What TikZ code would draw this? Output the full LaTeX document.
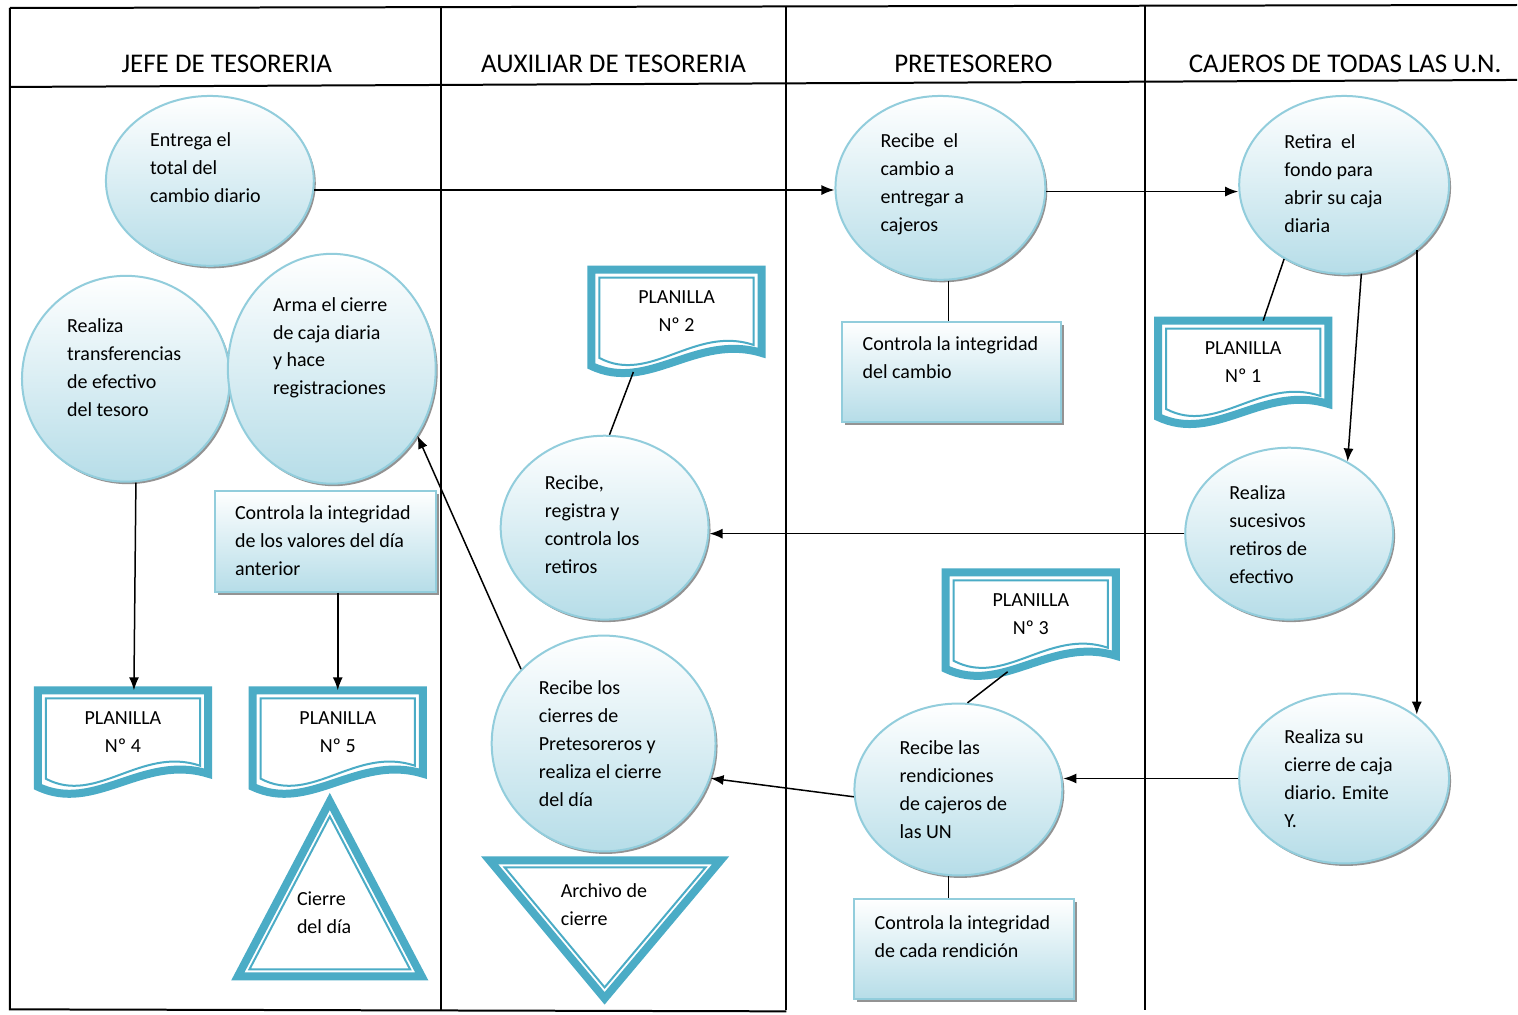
\documentclass[tikz,border=0pt]{standalone}
\usepackage{fontspec}
\setmainfont{Carlito}
\usetikzlibrary{shapes.geometric,calc,shadows,arrows.meta}
\definecolor{aqua}{HTML}{4BACC6}
\definecolor{aqualine}{HTML}{92CDDC}
\definecolor{aquafill}{HTML}{B6DDE8}
\tikzset{
	bubble/.style={ellipse, draw=aqualine, line width=2pt, top color=white, bottom color=aquafill,
		drop shadow={shadow xshift=2pt, shadow yshift=-2.5pt, fill=black!70, opacity=.6}},
	procbox/.style={rectangle, draw=aqualine, line width=2pt, top color=white, bottom color=aquafill,
		drop shadow={shadow xshift=3pt, shadow yshift=-3pt, fill=black!70, opacity=.6}},
	txt/.style={anchor=west, align=left, inner sep=0pt, font=\fontsize{20}{28}\selectfont},
	head/.style={inner sep=0pt, font=\fontsize{27}{30}\selectfont},
	planilla/.style={minimum width=170pt, minimum height=83pt, inner sep=0pt, align=center, font=\fontsize{20}{28}\selectfont},
	docouter/.style={draw=aqua, line width=8pt},
	docinner/.style={draw=aqua, line width=2pt},
	flow/.style={-{Latex[length=13pt,width=10pt]}, line width=1.5pt},
	link/.style={line width=1.5pt},
	lane/.style={line width=2pt}
}
\begin{document}
\begin{tikzpicture}[x=1pt,y=-1pt]
	\fill[white] (0,0) rectangle (1518,1015);
	\draw[lane] (10,8) -- (1518,5);
	\draw[lane] (10,87) -- (1518,80);
	\draw[lane] (10,8) -- (10,1010) -- (787,1012);
	\foreach \x in {441,787,1146}
	\draw[lane] (\x,6) -- (\x,1011);
	\foreach \n/\x/\t in {jefe/227/JEFE DE TESORERIA, aux/614/AUXILIAR DE TESORERIA, pre/974/PRETESORERO, caj/1346/CAJEROS DE TODAS LAS U.N.}
	\node[head] (\n) at (\x,64) {\t};
	\foreach \n/\x/\y/\w/\h in {e1/210/181/208/170, e2/941/188/210/184, e3/1345/185/210/178, e4/126/379/208/206, e5/332/369/208/230,
		e6/605/528/208/184, e7/1290/534/208/172, e8/604/744/224/216, e9/959/790/208/172, e10/1345/779/210/170}
	\node[bubble, minimum width=\w pt, minimum height=\h pt] (\n) at (\x,\y) {};
	\node[txt] (t1) at (150,168) {Entrega el\\total del\\cambio diario};
	\node[txt] (t2) at (881,184) {Recibe~ el\\cambio a\\entregar a\\cajeros};
	\node[txt] (t3) at (1285,184) {Retira~ el\\fondo para\\abrir su caja\\diaria};
	\node[txt] (t4) at (67,368) {Realiza\\transferencias\\de efectivo\\del tesoro};
	\node[txt] (t5) at (273,348) {Arma el cierre\\de caja diaria\\y hace\\registraciones};
	\node[txt] (t6) at (545,525) {Recibe,\\registra y\\controla los\\retiros};
	\node[txt] (t7) at (1230,535) {Realiza\\sucesivos\\retiros de\\efectivo};
	\node[txt] (t8) at (539,744) {Recibe los\\cierres de\\Pretesoreros y\\realiza el cierre\\del día};
	\node[txt] (t9) at (900,790) {Recibe las\\rendiciones\\de cajeros de\\las UN};
	\node[txt] (t10) at (1285,779) {Realiza su\\cierre de caja\\diario. Emite\\Y.};
	\node[procbox, minimum width=219pt, minimum height=100pt] (r1) at (952.5,372) {};
	\node[txt] (c1) at (863,358) {Controla la integridad\\del cambio};
	\node[procbox, minimum width=221pt, minimum height=101pt] (r2) at (325.5,541.5) {};
	\node[txt] (c2) at (235,541) {Controla la integridad\\de los valores del día\\anterior};
	\node[procbox, minimum width=220pt, minimum height=100pt] (r3) at (965,950) {};
	\node[txt] (c3) at (875,937) {Controla la integridad\\de cada rendición};
	\node[planilla] (p1) at (1244,362.5) {PLANILLA\\Nº 1};
	\node[planilla] (p2) at (677,311.5) {PLANILLA\\Nº 2};
	\node[planilla] (p3) at (1031.5,614.5) {PLANILLA\\Nº 3};
	\node[planilla] (p4) at (123,732.5) {PLANILLA\\Nº 4};
	\node[planilla] (p5) at (338,732.5) {PLANILLA\\Nº 5};
	\foreach \p in {p1,p2,p3,p4,p5}{
		\draw[docouter] (\p.north west) -- (\p.north east) -- (\p.south east)
		.. controls ($(\p.south west)+(105,-20)$) and ($(\p.south west)+(57,40)$) .. ($(\p.south west)+(0,13)$) -- cycle;
		\draw[docinner] ($(\p.north west)+(8,8)$) -- ($(\p.north east)+(-8,8)$) -- ($(\p.south east)+(-8,-8)$)
		.. controls ($(\p.south west)+(103,-28)$) and ($(\p.south west)+(59,32)$) .. ($(\p.south west)+(8,5)$) -- cycle;
	}
	\draw[docouter] (330,802) -- (238,977) -- (422,977) -- cycle;
	\draw[docinner] (330,817) -- (249.6,970) -- (410.4,970) -- cycle;
	\node[txt] (cierre) at (297,913) {Cierre\\del día};
	\draw[docouter] (490,861) -- (721,861) -- (605,999) -- cycle;
	\draw[docinner] (505,868) -- (706,868) -- (605,988) -- cycle;
	\node[txt] (archivo) at (561,905) {Archivo de\\cierre};
	\draw[flow] (e1.-5) -- (e1.-5 -| e2.west);
	\draw[flow] (e2.-2) -- (e2.-2 -| e3.west);
	\draw[link] (e3.231) -- ([xshift=20pt]p1.north);
	\draw[flow] (e3.-79) -- (e7.51);
	\draw[flow] (e3.-42) -- (e3.-42 |- e10.42);
	\draw[flow] (e7.west) -- (e7.west -| e6.east);
	\draw[link] (e6.87) -- ($(p2.south west)+(42,19)$);
	\draw[flow] (e8.138) -- (e5.-38);
	\draw[flow] (e9.184) -- (e8.-18);
	\draw[flow] (e10.west) -- (e10.west -| e9.east);
	\draw[link] (e9.84) -- ($(p3.south west)+(62,16)$);
	\draw[link] ([xshift=8pt]e2.south) -- ([xshift=8pt]e2.south |- r1.north);
	\draw[link] ([xshift=-10pt]e9.south) -- ([xshift=-10pt]e9.south |- r3.north);
	\draw[flow] ([xshift=10pt]e4.south) -- ([xshift=11pt]p4.north);
	\draw[flow] (p5.north |- r2.south) -- (p5.north);
\end{tikzpicture}
\end{document}
